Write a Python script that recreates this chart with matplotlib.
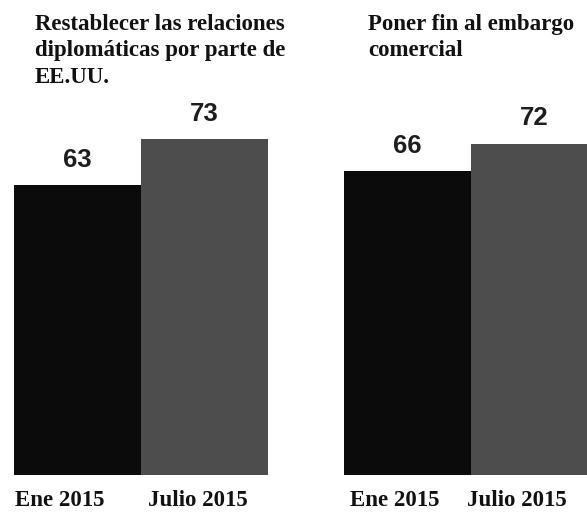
import numpy as np
import matplotlib
matplotlib.use('agg')
import matplotlib.pyplot as plt

# data
panel_titles = ["Restablecer las relaciones\ndiplomáticas por parte de\nEE.UU.",
                "Poner fin al embargo\ncomercial"]
periods = ["Ene 2015", "Julio 2015"]
diplomacy_vals = [63, 73]
embargo_vals = [66, 72]

bar_colors = ["#0b0b0b", "#4d4d4d"]
W, H = 587, 512


def draw_panel(ax, values, label_shift):
    x = np.arange(len(values))
    ax.bar(x, values, width=1.0, color=bar_colors, edgecolor="none")
    for xi, v in zip(x, values):
        ax.text(xi, v + 4.0, str(v), ha="center", va="baseline",
                fontsize=18.5, family="Liberation Sans", weight="bold",
                color="#1e1e1e")
    for xi, lab, dx in zip(x, periods, label_shift):
        ax.text(xi + dx, -5.6, lab, ha="center", va="center",
                fontsize=16.5, family="Liberation Serif", weight="bold",
                color="#111111")
    ax.set_xlim(-0.5, 1.5)
    ax.set_ylim(0, 100)
    ax.axis("off")


fig = plt.figure(figsize=(W / 100, H / 100), dpi=100)

bottom = (H - 475) / H
height = 460 / H
ax1 = fig.add_axes([14 / W, bottom, 254 / W, height])
ax2 = fig.add_axes([344 / W, bottom, 254 / W, height])

draw_panel(ax1, diplomacy_vals, [-0.14, -0.05])
draw_panel(ax2, embargo_vals, [-0.1, -0.14])

for tx, title in zip([35, 368], panel_titles):
    fig.text(tx / W, 1 - 14 / H, title, ha="left", va="top",
             fontsize=16.5, family="Liberation Serif", weight="bold",
             color="#111111", linespacing=1.34)

fig.savefig("out.png", dpi=100)
